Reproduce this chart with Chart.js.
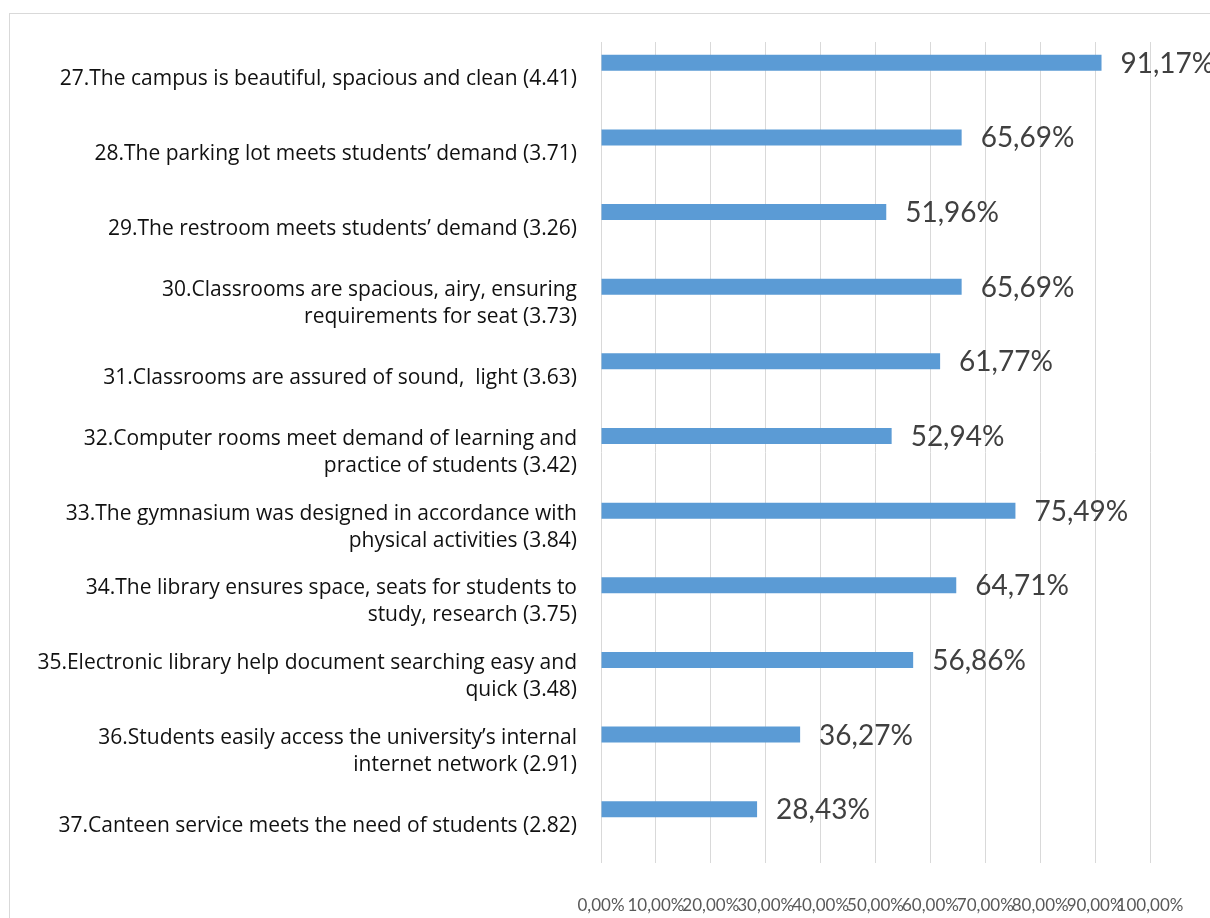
<!DOCTYPE html>
<html>
<head>
<meta charset="utf-8">
<script src="https://cdn.jsdelivr.net/npm/chart.js@4.4.1/dist/chart.umd.min.js"></script>
<style>
	html, body { margin: 0; padding: 0; background: #fff; overflow: hidden; width: 1210px; height: 918px; }
	#frame { position: absolute; left: 9px; top: 13px; width: 1240px; height: 925px; border: 1px solid #d9d9d9; background: #fff; }
	#frame canvas { display: block; }
</style>
</head>
<body>
<div id="frame"><canvas id="facilities" width="1240" height="925"></canvas></div>
<script>
// Items 27-37 with their mean scores, and share of students agreeing (%)
var items = [
	[ '27.The campus is beautiful, spacious and clean (4.41)' ],
	[ '28.The parking lot meets students\u2019 demand (3.71)' ],
	[ '29.The restroom meets students\u2019 demand (3.26)' ],
	[ '30.Classrooms are spacious, airy, ensuring', 'requirements for seat (3.73)' ],
	[ '31.Classrooms are assured of sound,  light (3.63)' ],
	[ '32.Computer rooms meet demand of learning and', 'practice of students (3.42)' ],
	[ '33.The gymnasium was designed in accordance with', 'physical activities (3.84)' ],
	[ '34.The library ensures space, seats for students to', 'study, research (3.75)' ],
	[ '35.Electronic library help document searching easy and', 'quick (3.48)' ],
	[ '36.Students easily access the university\u2019s internal', 'internet network (2.91)' ],
	[ '37.Canteen service meets the need of students (2.82)' ]
];
var agree = [ 91.17, 65.69, 51.96, 65.69, 61.77, 52.94, 75.49, 64.71, 56.86, 36.27, 28.43 ];
// second series of the original workbook is empty, it only keeps the bar slot
var empty = [ null, null, null, null, null, null, null, null, null, null, null ];
var x_ticks = [ 0, 10, 20, 30, 40, 50, 60, 70, 80, 90, 100 ];

function pct( v ){
	return v.toFixed( 2 ).replace( '.', ',' ) + '%';
} // pct

// value labels at the end of each bar
var bar_values = {
	id: 'bar_values',
	afterDatasetsDraw: function( chart ){
		var ctx  = chart.ctx,
			meta = chart.getDatasetMeta( 0 ),
			data = chart.data.datasets[ 0 ].data;

		ctx.save();
		ctx.font = '28px Lato';
		ctx.fillStyle = '#404040';
		ctx.textAlign = 'left';
		ctx.textBaseline = 'middle';
		meta.data.forEach( function( bar, i ){
			ctx.fillText( pct( data[ i ] ), bar.x + 19, bar.y + 1 );
		} );
		ctx.restore();
	}
};

new Chart( document.getElementById( 'facilities' ).getContext( '2d' ), {
	type: 'bar',
	data: {
		labels: items,
		datasets: [
			{ data: agree, backgroundColor: '#5b9bd5', borderWidth: 0, categoryPercentage: 0.884, barPercentage: 0.485 },
			{ data: empty, backgroundColor: '#ed7d31', borderWidth: 0, categoryPercentage: 0.884, barPercentage: 0.485 }
		]
	},
	options: {
		indexAxis: 'y',
		responsive: false,
		animation: false,
		layout: { padding: { top: 28, right: 100, left: 0, bottom: 0 } },
		plugins: {
			legend: { display: false },
			tooltip: { enabled: false }
		},
		scales: {
			x: {
				min: 0,
				max: 100,
				afterBuildTicks: function( scale ){
					scale.ticks = x_ticks.map( function( v ){ return { value: v }; } );
				},
				afterFit: function( scale ){
					scale.height = 76;
					scale.paddingLeft = 0;
					scale.paddingRight = 0;
				},
				grid: { color: '#d9d9d9', lineWidth: 1, drawTicks: false },
				border: { display: false },
				ticks: {
					autoSkip: false,
					maxRotation: 0,
					minRotation: 0,
					padding: 32,
					color: '#595959',
					font: { family: 'Lato', size: 17 },
					callback: function( v ){ return pct( v ); }
				}
			},
			y: {
				afterFit: function( scale ){
					scale.width = 591;
					scale.paddingTop = 0;
					scale.paddingBottom = 0;
				},
				grid: { display: false, drawTicks: false },
				border: { display: false },
				ticks: {
					autoSkip: false,
					padding: 24,
					color: '#111',
					font: { family: 'Open Sans', size: 21, lineHeight: 1.286 }
				}
			}
		}
	},
	plugins: [ bar_values ]
} );
</script>
</body>
</html>
